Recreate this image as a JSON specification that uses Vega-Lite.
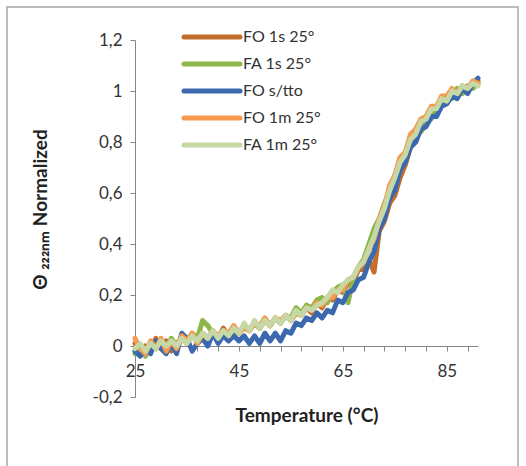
{
  "$schema": "https://vega.github.io/schema/vega-lite/v6.json",
  "width": 343,
  "height": 357,
  "autosize": {"type": "none"},
  "padding": {"left": 135, "top": 40, "right": 48, "bottom": 69},
  "background": "white",
  "config": {"view": {"stroke": null}, "font": "Lato"},
  "resolve": {"axis": {"x": "independent"}},
  "data": {"values": [
    {"t":25,"FO 1s 25°":0.01,"FA 1s 25°":-0.03,"FO s/tto":-0.02,"FO 1m 25°":0.03,"FA 1m 25°":-0.01},
    {"t":26,"FO 1s 25°":-0.03,"FA 1s 25°":-0.01,"FO s/tto":-0.04,"FO 1m 25°":-0.01,"FA 1m 25°":0.01},
    {"t":27,"FO 1s 25°":0.00,"FA 1s 25°":-0.04,"FO s/tto":-0.01,"FO 1m 25°":-0.03,"FA 1m 25°":-0.02},
    {"t":28,"FO 1s 25°":-0.02,"FA 1s 25°":0.01,"FO s/tto":-0.03,"FO 1m 25°":0.02,"FA 1m 25°":0.01},
    {"t":29,"FO 1s 25°":0.03,"FA 1s 25°":-0.01,"FO s/tto":0.02,"FO 1m 25°":-0.01,"FA 1m 25°":-0.01},
    {"t":30,"FO 1s 25°":-0.01,"FA 1s 25°":0.02,"FO s/tto":-0.01,"FO 1m 25°":0.03,"FA 1m 25°":0.02},
    {"t":31,"FO 1s 25°":0.02,"FA 1s 25°":-0.01,"FO s/tto":-0.03,"FO 1m 25°":-0.02,"FA 1m 25°":0.00},
    {"t":32,"FO 1s 25°":-0.02,"FA 1s 25°":0.03,"FO s/tto":0.01,"FO 1m 25°":0.02,"FA 1m 25°":0.02},
    {"t":33,"FO 1s 25°":0.01,"FA 1s 25°":0.00,"FO s/tto":-0.03,"FO 1m 25°":-0.01,"FA 1m 25°":0.00},
    {"t":34,"FO 1s 25°":0.03,"FA 1s 25°":0.03,"FO s/tto":0.05,"FO 1m 25°":0.04,"FA 1m 25°":0.03},
    {"t":35,"FO 1s 25°":0.01,"FA 1s 25°":0.02,"FO s/tto":0.03,"FO 1m 25°":0.02,"FA 1m 25°":0.01},
    {"t":36,"FO 1s 25°":0.04,"FA 1s 25°":0.05,"FO s/tto":-0.02,"FO 1m 25°":0.05,"FA 1m 25°":0.04},
    {"t":37,"FO 1s 25°":0.02,"FA 1s 25°":0.03,"FO s/tto":0.01,"FO 1m 25°":0.01,"FA 1m 25°":0.02},
    {"t":38,"FO 1s 25°":0.05,"FA 1s 25°":0.10,"FO s/tto":0.03,"FO 1m 25°":0.05,"FA 1m 25°":0.05},
    {"t":39,"FO 1s 25°":0.03,"FA 1s 25°":0.08,"FO s/tto":0.00,"FO 1m 25°":0.03,"FA 1m 25°":0.03},
    {"t":40,"FO 1s 25°":0.06,"FA 1s 25°":0.05,"FO s/tto":0.05,"FO 1m 25°":0.06,"FA 1m 25°":0.06},
    {"t":41,"FO 1s 25°":0.03,"FA 1s 25°":0.03,"FO s/tto":0.01,"FO 1m 25°":0.04,"FA 1m 25°":0.03},
    {"t":42,"FO 1s 25°":0.07,"FA 1s 25°":0.06,"FO s/tto":0.04,"FO 1m 25°":0.06,"FA 1m 25°":0.06},
    {"t":43,"FO 1s 25°":0.04,"FA 1s 25°":0.04,"FO s/tto":0.02,"FO 1m 25°":0.05,"FA 1m 25°":0.04},
    {"t":44,"FO 1s 25°":0.07,"FA 1s 25°":0.06,"FO s/tto":0.04,"FO 1m 25°":0.08,"FA 1m 25°":0.07},
    {"t":45,"FO 1s 25°":0.05,"FA 1s 25°":0.05,"FO s/tto":0.02,"FO 1m 25°":0.05,"FA 1m 25°":0.05},
    {"t":46,"FO 1s 25°":0.08,"FA 1s 25°":0.08,"FO s/tto":0.04,"FO 1m 25°":0.07,"FA 1m 25°":0.09},
    {"t":47,"FO 1s 25°":0.06,"FA 1s 25°":0.06,"FO s/tto":0.01,"FO 1m 25°":0.06,"FA 1m 25°":0.06},
    {"t":48,"FO 1s 25°":0.09,"FA 1s 25°":0.09,"FO s/tto":0.04,"FO 1m 25°":0.09,"FA 1m 25°":0.10},
    {"t":49,"FO 1s 25°":0.07,"FA 1s 25°":0.07,"FO s/tto":0.01,"FO 1m 25°":0.08,"FA 1m 25°":0.07},
    {"t":50,"FO 1s 25°":0.10,"FA 1s 25°":0.10,"FO s/tto":0.05,"FO 1m 25°":0.11,"FA 1m 25°":0.10},
    {"t":51,"FO 1s 25°":0.08,"FA 1s 25°":0.08,"FO s/tto":0.02,"FO 1m 25°":0.08,"FA 1m 25°":0.08},
    {"t":52,"FO 1s 25°":0.11,"FA 1s 25°":0.11,"FO s/tto":0.05,"FO 1m 25°":0.11,"FA 1m 25°":0.11},
    {"t":53,"FO 1s 25°":0.09,"FA 1s 25°":0.09,"FO s/tto":0.02,"FO 1m 25°":0.10,"FA 1m 25°":0.09},
    {"t":54,"FO 1s 25°":0.12,"FA 1s 25°":0.12,"FO s/tto":0.06,"FO 1m 25°":0.12,"FA 1m 25°":0.12},
    {"t":55,"FO 1s 25°":0.10,"FA 1s 25°":0.11,"FO s/tto":0.05,"FO 1m 25°":0.10,"FA 1m 25°":0.10},
    {"t":56,"FO 1s 25°":0.13,"FA 1s 25°":0.15,"FO s/tto":0.09,"FO 1m 25°":0.13,"FA 1m 25°":0.14},
    {"t":57,"FO 1s 25°":0.12,"FA 1s 25°":0.13,"FO s/tto":0.08,"FO 1m 25°":0.12,"FA 1m 25°":0.12},
    {"t":58,"FO 1s 25°":0.15,"FA 1s 25°":0.16,"FO s/tto":0.11,"FO 1m 25°":0.15,"FA 1m 25°":0.15},
    {"t":59,"FO 1s 25°":0.13,"FA 1s 25°":0.15,"FO s/tto":0.10,"FO 1m 25°":0.14,"FA 1m 25°":0.14},
    {"t":60,"FO 1s 25°":0.17,"FA 1s 25°":0.18,"FO s/tto":0.13,"FO 1m 25°":0.17,"FA 1m 25°":0.16},
    {"t":61,"FO 1s 25°":0.15,"FA 1s 25°":0.19,"FO s/tto":0.11,"FO 1m 25°":0.16,"FA 1m 25°":0.17},
    {"t":62,"FO 1s 25°":0.19,"FA 1s 25°":0.17,"FO s/tto":0.14,"FO 1m 25°":0.19,"FA 1m 25°":0.19},
    {"t":63,"FO 1s 25°":0.18,"FA 1s 25°":0.21,"FO s/tto":0.13,"FO 1m 25°":0.19,"FA 1m 25°":0.22},
    {"t":64,"FO 1s 25°":0.22,"FA 1s 25°":0.23,"FO s/tto":0.18,"FO 1m 25°":0.22,"FA 1m 25°":0.21},
    {"t":65,"FO 1s 25°":0.21,"FA 1s 25°":0.24,"FO s/tto":0.17,"FO 1m 25°":0.22,"FA 1m 25°":0.24},
    {"t":66,"FO 1s 25°":0.25,"FA 1s 25°":0.17,"FO s/tto":0.21,"FO 1m 25°":0.26,"FA 1m 25°":0.26},
    {"t":67,"FO 1s 25°":0.25,"FA 1s 25°":0.27,"FO s/tto":0.22,"FO 1m 25°":0.27,"FA 1m 25°":0.27},
    {"t":68,"FO 1s 25°":0.30,"FA 1s 25°":0.31,"FO s/tto":0.26,"FO 1m 25°":0.31,"FA 1m 25°":0.31},
    {"t":69,"FO 1s 25°":0.30,"FA 1s 25°":0.34,"FO s/tto":0.27,"FO 1m 25°":0.33,"FA 1m 25°":0.33},
    {"t":70,"FO 1s 25°":0.34,"FA 1s 25°":0.40,"FO s/tto":0.33,"FO 1m 25°":0.38,"FA 1m 25°":0.38},
    {"t":71,"FO 1s 25°":0.29,"FA 1s 25°":0.46,"FO s/tto":0.37,"FO 1m 25°":0.42,"FA 1m 25°":0.43},
    {"t":72,"FO 1s 25°":0.45,"FA 1s 25°":0.50,"FO s/tto":0.46,"FO 1m 25°":0.50,"FA 1m 25°":0.49},
    {"t":73,"FO 1s 25°":0.49,"FA 1s 25°":0.56,"FO s/tto":0.50,"FO 1m 25°":0.55,"FA 1m 25°":0.54},
    {"t":74,"FO 1s 25°":0.56,"FA 1s 25°":0.60,"FO s/tto":0.58,"FO 1m 25°":0.63,"FA 1m 25°":0.61},
    {"t":75,"FO 1s 25°":0.59,"FA 1s 25°":0.67,"FO s/tto":0.61,"FO 1m 25°":0.67,"FA 1m 25°":0.66},
    {"t":76,"FO 1s 25°":0.66,"FA 1s 25°":0.70,"FO s/tto":0.69,"FO 1m 25°":0.74,"FA 1m 25°":0.72},
    {"t":77,"FO 1s 25°":0.71,"FA 1s 25°":0.76,"FO s/tto":0.72,"FO 1m 25°":0.76,"FA 1m 25°":0.75},
    {"t":78,"FO 1s 25°":0.78,"FA 1s 25°":0.78,"FO s/tto":0.78,"FO 1m 25°":0.83,"FA 1m 25°":0.81},
    {"t":79,"FO 1s 25°":0.80,"FA 1s 25°":0.83,"FO s/tto":0.80,"FO 1m 25°":0.85,"FA 1m 25°":0.83},
    {"t":80,"FO 1s 25°":0.87,"FA 1s 25°":0.84,"FO s/tto":0.85,"FO 1m 25°":0.89,"FA 1m 25°":0.88},
    {"t":81,"FO 1s 25°":0.87,"FA 1s 25°":0.87,"FO s/tto":0.86,"FO 1m 25°":0.90,"FA 1m 25°":0.89},
    {"t":82,"FO 1s 25°":0.93,"FA 1s 25°":0.89,"FO s/tto":0.90,"FO 1m 25°":0.94,"FA 1m 25°":0.93},
    {"t":83,"FO 1s 25°":0.92,"FA 1s 25°":0.94,"FO s/tto":0.90,"FO 1m 25°":0.94,"FA 1m 25°":0.93},
    {"t":84,"FO 1s 25°":0.97,"FA 1s 25°":0.94,"FO s/tto":0.94,"FO 1m 25°":0.98,"FA 1m 25°":0.97},
    {"t":85,"FO 1s 25°":0.96,"FA 1s 25°":0.98,"FO s/tto":0.95,"FO 1m 25°":0.98,"FA 1m 25°":0.96},
    {"t":86,"FO 1s 25°":1.00,"FA 1s 25°":0.97,"FO s/tto":0.98,"FO 1m 25°":1.01,"FA 1m 25°":1.00},
    {"t":87,"FO 1s 25°":0.99,"FA 1s 25°":1.01,"FO s/tto":0.97,"FO 1m 25°":0.99,"FA 1m 25°":0.99},
    {"t":88,"FO 1s 25°":1.02,"FA 1s 25°":0.99,"FO s/tto":1.01,"FO 1m 25°":1.02,"FA 1m 25°":1.02},
    {"t":89,"FO 1s 25°":1.01,"FA 1s 25°":1.02,"FO s/tto":0.99,"FO 1m 25°":1.01,"FA 1m 25°":1.01},
    {"t":90,"FO 1s 25°":1.03,"FA 1s 25°":1.01,"FO s/tto":1.03,"FO 1m 25°":1.04,"FA 1m 25°":1.03},
    {"t":91,"FO 1s 25°":1.04,"FA 1s 25°":1.03,"FO s/tto":1.05,"FO 1m 25°":1.03,"FA 1m 25°":1.02}
  ]},
  "layer": [
    {
      "transform": [{"fold": ["FO 1s 25°", "FA 1s 25°", "FO s/tto", "FO 1m 25°", "FA 1m 25°"], "as": ["series", "value"]}],
      "mark": {"type": "line", "strokeWidth": 5, "strokeJoin": "round", "strokeCap": "round"},
      "encoding": {
        "x": {
          "field": "t", "type": "quantitative",
          "scale": {"domain": [25, 91], "nice": false, "zero": false},
          "axis": {
            "orient": "bottom",
            "values": [25, 45, 65, 85],
            "offset": -51, "tickSize": 5, "grid": false,
            "domainColor": "#868686", "tickColor": "#868686",
            "labelFontSize": 17, "labelPadding": 12, "labelColor": "#333333",
            "labelOverlap": false, "labelFlush": false,
            "title": "Temperature (°C)", "titleFontSize": 19, "titleFontWeight": "bold", "titleColor": "#222222",
            "titleY": 69, "titleBaseline": "middle"
          }
        },
        "y": {
          "field": "value", "type": "quantitative",
          "scale": {"domain": [-0.2, 1.2], "nice": false, "zero": false},
          "axis": {
            "values": [-0.2, 0, 0.2, 0.4, 0.6, 0.8, 1, 1.2],
            "labelExpr": "replace(replace(format(datum.value, '.1~f'), '.', ','), '−', '-')",
            "tickSize": 5, "grid": false,
            "domainColor": "#868686", "tickColor": "#868686",
            "labelFontSize": 17, "labelPadding": 8, "labelColor": "#333333",
            "title": "Θ ₂₂₂ₙₘ Normalized", "titleFontSize": 19, "titleFontWeight": "bold", "titleColor": "#222222",
            "titleAngle": -90, "titleX": -95, "titleY": 169, "titleAlign": "center", "titleBaseline": "middle"
          }
        },
        "color": {
          "field": "series", "type": "nominal",
          "scale": {
            "domain": ["FO 1s 25°", "FA 1s 25°", "FO s/tto", "FO 1m 25°", "FA 1m 25°"],
            "range": ["#C26F2E", "#8CB84A", "#3B68AE", "#F59A4E", "#C5D8A6"]
          },
          "legend": {
            "orient": "none", "legendX": 69, "legendY": -11, "title": null, "padding": 0,
            "symbolType": "M-8,0H8", "symbolSize": 49, "symbolStrokeWidth": 5,
            "labelFontSize": 16, "labelOffset": 23, "rowPadding": 7, "labelColor": "#333333",
            "encode": {"symbols": {"update": {"strokeCap": {"value": "round"}}}}
          }
        }
      }
    },
    {
      "data": {"values": [{}]},
      "mark": {"type": "rect", "fill": null, "stroke": "#a6a6a6", "strokeWidth": 1.5, "clip": false},
      "encoding": {
        "x": {
          "datum": 0.37, "type": "quantitative",
          "axis": {
            "orient": "bottom",
            "values": [29, 33, 37, 41, 49, 53, 57, 61, 69, 73, 77, 81, 89],
            "labels": false, "domain": false, "offset": -51, "tickSize": 5, "grid": false,
            "tickColor": "#868686", "title": null
          }
        },
        "x2": {"datum": 98.7},
        "y": {"datum": 1.329, "type": "quantitative"},
        "y2": {"datum": -0.51}
      }
    }
  ]
}
